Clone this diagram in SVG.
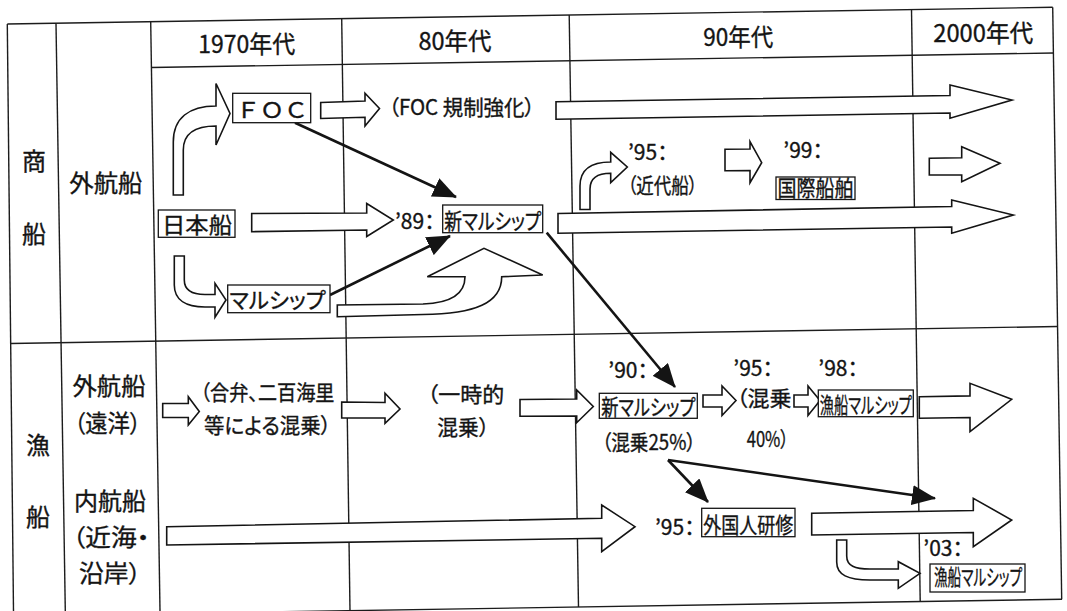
<svg xmlns="http://www.w3.org/2000/svg" width="1067" height="611" viewBox="0 0 1067 611">
<defs>
<style>
.g{stroke:#1c1c1c;stroke-width:1.4;fill:none}
.a{fill:#fff;stroke:#141414;stroke-width:1.6;stroke-linejoin:miter}
.bx{fill:#fff;stroke:#141414;stroke-width:1.3}
.ln{stroke:#141414;stroke-width:2.6;fill:none;marker-end:url(#ah)}
text{font-family:"Noto Sans CJK JP","Noto Sans CJK SC",sans-serif;fill:#141414;stroke:#141414;stroke-width:0.35;font-feature-settings:"palt"}
.h{font-size:24px;text-anchor:middle}
.lb{font-size:24px;text-anchor:middle}
.m{font-size:21px;text-anchor:middle}
.s{font-size:21px}
.bt{font-size:22px;text-anchor:middle}
.fw{font-feature-settings:normal}
</style>
<marker id="ah" viewBox="0 0 24 20" refX="23" refY="10" markerWidth="24" markerHeight="20" markerUnits="userSpaceOnUse" orient="auto"><path d="M0,0 L24,10 L0,20 Z" fill="#141414"/></marker>
</defs>
<rect width="1067" height="611" fill="#fff"/>

<g id="table" class="g">
<line x1="7.3" y1="24" x2="1052.7" y2="7.3"/>
<line x1="7.3" y1="24" x2="13.5" y2="611"/>
<line x1="1052.7" y1="7.3" x2="1061.7" y2="599.3"/>
<line x1="0" y1="616.2" x2="1062" y2="599.3"/>
<line x1="151.4" y1="67.5" x2="1053.4" y2="53"/>
<line x1="10.7" y1="343.5" x2="1057.6" y2="326.5"/>
<line x1="56" y1="23.2" x2="65.3" y2="611"/>
<line x1="150.7" y1="21.7" x2="160" y2="611"/>
<line x1="341.7" y1="18.6" x2="350" y2="611"/>
<line x1="569.2" y1="15" x2="578.5" y2="607"/>
<line x1="911.5" y1="9.6" x2="920.2" y2="601.6"/>
</g>

<g id="headers">
<text class="h" x="246.7" y="53.3" textLength="97" lengthAdjust="spacingAndGlyphs">1970年代</text>
<text class="h" x="455" y="50" textLength="73" lengthAdjust="spacingAndGlyphs">80年代</text>
<text class="h" x="738.3" y="45.5" textLength="70" lengthAdjust="spacingAndGlyphs">90年代</text>
<text class="h" x="983.3" y="41.5" textLength="100" lengthAdjust="spacingAndGlyphs">2000年代</text>
</g>

<g id="row-labels">
<text class="lb" x="34" y="170">商</text>
<text class="lb" x="34" y="243">船</text>
<text class="lb" x="38" y="454">漁</text>
<text class="lb" x="38" y="525.7">船</text>
<text class="lb" x="105.8" y="191.5" textLength="73" lengthAdjust="spacingAndGlyphs">外航船</text>
<text class="lb" x="109" y="394.8" textLength="73" lengthAdjust="spacingAndGlyphs">外航船</text>
<text class="lb" x="107.5" y="432" textLength="67" lengthAdjust="spacingAndGlyphs">（遠洋）</text>
<text class="lb" x="110" y="509.8" textLength="72" lengthAdjust="spacingAndGlyphs">内航船</text>
<text class="lb" x="111" y="545.5" textLength="77" lengthAdjust="spacingAndGlyphs">（近海・</text>
<text class="lb" x="110" y="582" textLength="62" lengthAdjust="spacingAndGlyphs">沿岸）</text>
</g>

<g id="connectors">
<path class="a" d="M173.3,195 L173.3,142 C173.3,118 189,106 216,106 L216,83.5 L230,113.5 L216,145 L216,126 C197,126 183.3,132 183.3,150 L183.3,195 Z"/>
<path class="a" d="M320.7,102.5 L365,101 L365,93.3 L379.5,108.5 L365,126 L365,117.3 L320.7,118.5 Z"/>
<path class="a" d="M556,101.7 L950,95.5 L950,85 L1012,100 L950,118.3 L950,113 L556,119.3 Z"/>
<path class="a" d="M580,209.5 L580,186 C580,170 591,162 610.7,162 L610.7,152.3 L627.3,167 L610.7,182.7 L610.7,173.3 C597,173.3 590,178 590,189 L590,209.5 Z"/>
<path class="a" d="M725,149.3 L750,149 L750,141.7 L761.7,162.7 L750,182.7 L750,170.5 L725,170.7 Z"/>
<path class="a" d="M929.3,158.3 L961.7,157.7 L961.7,146.7 L1000,163.3 L961.7,181.7 L961.7,175 L929.3,175 Z"/>
<path class="a" d="M251.7,213.5 L366.7,213 L366.7,203.5 L393.3,220 L366.7,236.5 L366.7,230 L251.7,231.7 Z"/>
<path class="a" d="M558,213.5 L951.7,206.5 L951.7,200 L1013.3,215 L951.7,233.3 L951.7,227 L558,233.3 Z"/>
<path class="a" d="M174.3,256 L174.3,285 C174.3,300 186,307 205,307 L215,307 L215,317.3 L226,300 L215,283.3 L215,294.5 L205,294.5 C192,294.5 184.3,290 184.3,280 L184.3,256 Z"/>
<path class="a" d="M337.3,305 L423,304 C450,303 465,295 465,276.7 L427.3,276.7 L484,248.3 L542.7,275 L501.7,276.7 C501.7,303 475,314 423,314.5 L337.3,316.7 Z"/>
<path class="a" d="M162.7,403.5 L188.3,403.5 L188.3,396.7 L199.3,411.5 L188.3,425 L188.3,417.5 L162.7,417.5 Z"/>
<path class="a" d="M341.7,402 L385,402.5 L385,393.3 L400,409 L385,423.3 L385,418 L341.7,418 Z"/>
<path class="a" d="M520,399.5 L576.7,399 L576.7,390 L593.3,406.5 L576.7,422.7 L576.7,416 L520,416.3 Z"/>
<path class="a" d="M703,395 L722,395 L722,386 L736,400.5 L722,415.5 L722,407 L703,407 Z"/>
<path class="a" d="M794,395 L808,395 L808,386 L820,400.5 L808,415.5 L808,407 L794,407 Z"/>
<path class="a" d="M919.3,396.7 L970,395.9 L970,383.3 L1011.7,399.3 L970,431.7 L970,417.5 L919.3,418.3 Z"/>
<path class="a" d="M166.7,526.7 L601.7,518.3 L601.7,505 L635,526.7 L601.7,551.7 L601.7,538.3 L166.7,545 Z"/>
<path class="a" d="M811.7,513.3 L973.3,510.5 L973.3,498.3 L1011.7,520 L973.3,546.7 L973.3,532.5 L811.7,535 Z"/>
<path class="a" d="M836.7,540 L836.7,562 C836.7,575 848,580 870,580 L898.3,580 L898.3,588.3 L920,573.3 L898.3,561.7 L898.3,569 L870,569 C855,569 846.7,566 846.7,556 L846.7,540 Z"/>
<line class="ln" x1="295" y1="122.7" x2="456" y2="197"/>
<line class="ln" x1="330" y1="295" x2="450" y2="236"/>
<line class="ln" x1="546.7" y1="232.7" x2="675" y2="387"/>
<line class="ln" x1="668" y1="460" x2="708" y2="502"/>
<line class="ln" x1="668" y1="460" x2="935" y2="498.3"/>
</g>

<g id="n-foc"><rect class="bx" x="232.7" y="93.3" width="78" height="29.4"/><text class="bt fw" x="272" y="117.5" font-size="24" textLength="72" lengthAdjust="spacingAndGlyphs">ＦＯＣ</text></g>
<g id="n-foc-reg"><text class="m" x="461.7" y="115" textLength="146" lengthAdjust="spacingAndGlyphs">（FOC 規制強化）</text></g>
<g id="n-nihonsen"><rect class="bx" x="158.3" y="210" width="76.7" height="27.3"/><text class="bt" x="197" y="233" font-size="24" textLength="70" lengthAdjust="spacingAndGlyphs">日本船</text></g>
<g id="n-marship"><rect class="bx" x="227.7" y="285" width="102.3" height="27.7"/><text class="bt" x="277.5" y="308" textLength="96" lengthAdjust="spacingAndGlyphs">マルシップ</text></g>
<g id="n-89"><text class="s" x="395" y="229">’89：</text><rect class="bx" x="442.7" y="205" width="100" height="27.7"/><text class="bt" x="492.7" y="229" textLength="97" lengthAdjust="spacingAndGlyphs">新マルシップ</text></g>
<g id="n-95k"><text class="s" x="628" y="160">’95：</text><text class="m" x="662.5" y="193" textLength="70" lengthAdjust="spacingAndGlyphs">（近代船）</text></g>
<g id="n-99"><text class="s" x="783.3" y="158">’99：</text><rect class="bx" x="776" y="177" width="79" height="22.5"/><text class="bt" x="815.5" y="196" font-size="21" textLength="76" lengthAdjust="spacingAndGlyphs">国際船舶</text></g>
<g id="n-gouben"><text class="m" x="267.5" y="400" textLength="134" lengthAdjust="spacingAndGlyphs">（合弁、二百海里</text><text class="m" x="267.5" y="433" textLength="127" lengthAdjust="spacingAndGlyphs">等による混乗）</text></g>
<g id="n-ichiji"><text class="m" x="465.8" y="401.5" textLength="77" lengthAdjust="spacingAndGlyphs">（一時的</text><text class="m" x="463.3" y="434.5" textLength="52" lengthAdjust="spacingAndGlyphs">混乗）</text></g>
<g id="n-90"><text class="s" x="608.3" y="378">’90：</text><rect class="bx" x="599.3" y="393.3" width="98" height="25"/><text class="bt" x="648.3" y="415" font-size="21" textLength="94" lengthAdjust="spacingAndGlyphs">新マルシップ</text><text class="m" x="648.8" y="450" textLength="94" lengthAdjust="spacingAndGlyphs">（混乗25%）</text></g>
<g id="n-95m"><text class="s" x="733.3" y="376">’95：</text><text class="s" x="736.5" y="406" textLength="55" lengthAdjust="spacingAndGlyphs">（混乗</text><text class="s" x="746.7" y="447" textLength="42" lengthAdjust="spacingAndGlyphs">40%）</text></g>
<g id="n-98"><text class="s" x="818.3" y="376">’98：</text><rect class="bx" x="818.3" y="390" width="95" height="26.7"/><text class="bt" x="865.8" y="412.5" font-size="20" textLength="92" lengthAdjust="spacingAndGlyphs">漁船マルシップ</text></g>
<g id="n-95g"><text class="s" x="655" y="535">’95：</text><rect class="bx" x="701.7" y="508.3" width="93.3" height="28.4"/><text class="bt" x="748.3" y="532.5" font-size="24" textLength="90" lengthAdjust="spacingAndGlyphs">外国人研修</text></g>
<g id="n-03"><text class="s" x="923.3" y="556">’03：</text><rect class="bx" x="930" y="564" width="95" height="28"/><text class="bt" x="978" y="584.5" font-size="18" textLength="88" lengthAdjust="spacingAndGlyphs">漁船マルシップ</text></g>
</svg>
